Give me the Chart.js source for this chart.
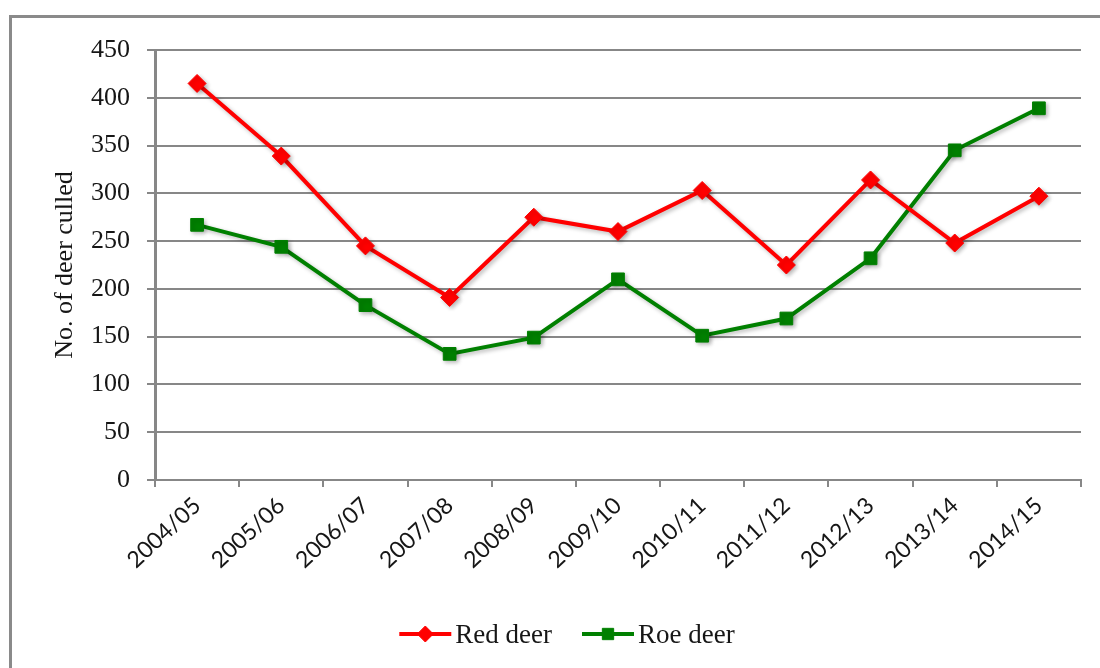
<!DOCTYPE html>
<html>
<head>
<meta charset="utf-8">
<title>No. of deer culled</title>
<script src="https://cdn.jsdelivr.net/npm/chart.js@4/dist/chart.umd.min.js"></script>
<style>
  html, body { margin: 0; padding: 0; background: #ffffff; overflow: hidden; }
  #wrap { position: relative; width: 1100px; height: 668px; }
  #frame { position: absolute; left: 9px; top: 15px; width: 1200px; height: 800px;
           border-left: 3px solid #8a8a8a; border-top: 3px solid #8a8a8a; }
  #c { position: absolute; left: 0; top: 0; }
</style>
</head>
<body>
<div id="wrap">
  <div id="frame"></div>
  <canvas id="c" width="1100" height="668"></canvas>
</div>
<script>
// Seasons on the category axis
const seasons = ['2004/05', '2005/06', '2006/07', '2007/08', '2008/09', '2009/10',
                 '2010/11', '2011/12', '2012/13', '2013/14', '2014/15'];

// Deer culled per season
const redDeer = [415, 339, 245, 191, 275, 260, 303, 225, 314, 248, 297];
const roeDeer = [267, 244, 183, 132, 149, 210, 151, 169, 232, 345, 389];

// Value axis
const yMin = 0;
const yMax = 450;
const yStep = 50;

const seriesNames = ['Red deer', 'Roe deer'];

const GRID = '#878787';
const TEXT = '#161616';
const SERIF = "'Liberation Serif', 'DejaVu Serif', serif";
const SANS = "Lato, 'Open Sans', sans-serif";

// Soft drop shadow under lines and markers
const shadowPlugin = {
  id: 'seriesShadow',
  beforeDatasetsDraw(chart) {
    const ctx = chart.ctx;
    ctx.save();
    ctx.shadowColor = 'rgba(0,0,0,0.28)';
    ctx.shadowBlur = 4;
    ctx.shadowOffsetX = 2;
    ctx.shadowOffsetY = 2;
  },
  afterDatasetsDraw(chart) {
    chart.ctx.restore();
  }
};

// Legend below the plot: a line segment with its marker, then the series name
const lineLegend = {
  id: 'lineLegend',
  afterDraw(chart, args, opts) {
    const ctx = chart.ctx;
    const seg = opts.segment;
    const gap = opts.textGap;
    const between = opts.itemGap;
    ctx.save();
    ctx.font = opts.font;
    const items = chart.data.datasets.map(ds => ({
      ds,
      w: seg + gap + ctx.measureText(ds.label).width
    }));
    const total = items.reduce((s, it) => s + it.w, 0) + between * (items.length - 1);
    let x = opts.centerX - total / 2;
    const y = opts.y;
    items.forEach(({ ds, w }) => {
      ctx.strokeStyle = ds.borderColor;
      ctx.lineWidth = ds.borderWidth;
      ctx.beginPath();
      ctx.moveTo(x, y);
      ctx.lineTo(x + seg, y);
      ctx.stroke();
      ctx.fillStyle = ds.pointBackgroundColor;
      ctx.strokeStyle = ds.pointBorderColor;
      ctx.lineWidth = 1;
      Chart.helpers.drawPoint(ctx, {
        pointStyle: ds.pointStyle,
        radius: ds.pointRadius - 1,
        borderWidth: 1,
        rotation: 0
      }, x + seg / 2, y);
      ctx.fillStyle = TEXT;
      ctx.textAlign = 'left';
      ctx.textBaseline = 'middle';
      ctx.fillText(ds.label, x + seg + gap, y + 2);
      x += w + between;
    });
    ctx.restore();
  }
};

new Chart(document.getElementById('c'), {
  type: 'line',
  data: {
    labels: seasons,
    datasets: [
      {
        label: seriesNames[0],
        data: redDeer,
        borderColor: '#ff0000',
        backgroundColor: '#ff0000',
        borderWidth: 4,
        pointStyle: 'rectRot',
        pointRadius: 9,
        pointBackgroundColor: '#ff0000',
        pointBorderColor: '#ff0000',
        pointBorderWidth: 1,
        tension: 0
      },
      {
        label: seriesNames[1],
        data: roeDeer,
        borderColor: '#008000',
        backgroundColor: '#008000',
        borderWidth: 4,
        pointStyle: 'rect',
        pointRadius: 9,
        pointBackgroundColor: '#008000',
        pointBorderColor: '#008000',
        pointBorderWidth: 1,
        tension: 0
      }
    ]
  },
  options: {
    responsive: false,
    animation: false,
    devicePixelRatio: 1,
    layout: { padding: { left: 0, right: 19, top: 50, bottom: 0 } },
    plugins: {
      legend: { display: false },
      tooltip: { enabled: false },
      lineLegend: {
        centerX: 567,
        y: 634,
        segment: 52,
        textGap: 4,
        itemGap: 30,
        font: "27px " + SERIF
      }
    },
    scales: {
      x: {
        offset: true,
        grid: {
          display: true,
          offset: true,
          drawOnChartArea: false,
          drawTicks: true,
          tickLength: 7,
          color: GRID,
          lineWidth: 2
        },
        border: { display: true, color: GRID, width: 2 },
        ticks: {
          color: TEXT,
          font: { family: SANS, size: 23 },
          minRotation: 43,
          maxRotation: 43,
          autoSkip: false,
          padding: 5
        },
        afterFit(scale) { scale.height = 188; }
      },
      y: {
        min: yMin,
        max: yMax,
        ticks: {
          stepSize: yStep,
          color: TEXT,
          font: { family: SERIF, size: 26 },
          padding: 17
        },
        grid: {
          color: GRID,
          lineWidth: 2,
          drawTicks: true,
          tickLength: 8
        },
        border: { display: true, color: GRID, width: 3 },
        title: {
          display: true,
          text: 'No. of deer culled',
          color: TEXT,
          font: { family: SERIF, size: 26 },
          padding: { top: 50, bottom: 0 }
        },
        afterFit(scale) { scale.width = 155; }
      }
    }
  },
  plugins: [shadowPlugin, lineLegend]
});
</script>
</body>
</html>
